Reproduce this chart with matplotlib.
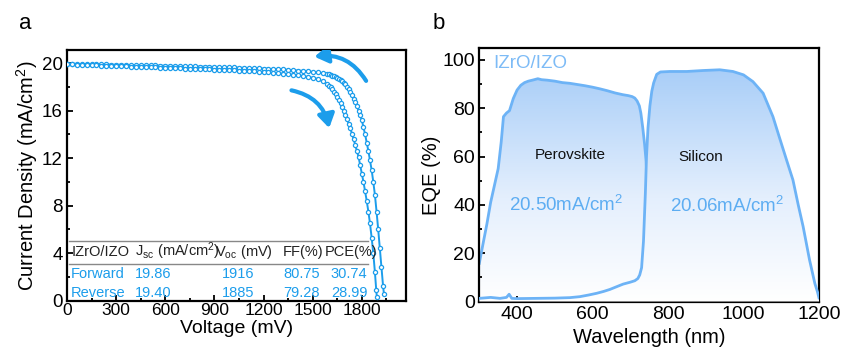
import numpy as np
import matplotlib
matplotlib.use("Agg")
import matplotlib.pyplot as plt
from matplotlib.colors import LinearSegmentedColormap
from matplotlib.patches import FancyArrowPatch

plt.rcParams['font.family'] = ['Liberation Sans', 'DejaVu Sans']
plt.rcParams['mathtext.fontset'] = 'custom'
plt.rcParams['mathtext.rm'] = 'Liberation Sans'
plt.rcParams['mathtext.it'] = 'Liberation Sans:italic'

# ---- data: J-V (panel a) ----
v_fwd = [0, 30, 60, 90, 120, 150, 180, 210, 240, 270,
         300, 330, 360, 390, 420, 450, 480, 510, 540, 570,
         600, 630, 660, 690, 720, 750, 780, 810, 840, 870,
         900, 930, 960, 990, 1020, 1050, 1080, 1110, 1140, 1170,
         1200, 1230, 1260, 1290, 1320, 1350, 1380, 1410, 1440, 1470,
         1500, 1530, 1560, 1590, 1600, 1610, 1620, 1630, 1640, 1650,
         1660, 1670, 1680, 1690, 1700, 1710, 1720, 1730, 1740, 1750,
         1760, 1770, 1780, 1790, 1800, 1810, 1820, 1830, 1840, 1850,
         1860, 1870, 1880, 1890, 1900, 1910, 1920, 1930, 1935]
j_fwd = [19.95, 19.94, 19.93, 19.92, 19.91, 19.90, 19.90, 19.89, 19.88, 19.87,
         19.86, 19.86, 19.85, 19.84, 19.83, 19.82, 19.81, 19.80, 19.80, 19.79,
         19.78, 19.77, 19.76, 19.75, 19.74, 19.73, 19.72, 19.71, 19.70, 19.69,
         19.68, 19.67, 19.66, 19.65, 19.63, 19.62, 19.60, 19.59, 19.57, 19.56,
         19.54, 19.52, 19.50, 19.48, 19.46, 19.43, 19.40, 19.37, 19.34, 19.30,
         19.26, 19.21, 19.15, 19.07, 19.04, 19.00, 18.95, 18.90, 18.84, 18.76,
         18.68, 18.58, 18.50, 18.35, 18.20, 18.00, 17.80, 17.60, 17.30, 17.00,
         16.70, 16.40, 16.00, 15.60, 15.20, 14.60, 14.00, 13.30, 12.60, 11.80,
         11.00, 10.00, 8.90, 7.50, 6.00, 4.40, 2.80, 1.20, 0.60]

v_rev = [0, 30, 60, 90, 120, 150, 180, 210, 240, 270,
         300, 330, 360, 390, 420, 450, 480, 510, 540, 570,
         600, 630, 660, 690, 720, 750, 780, 810, 840, 870,
         900, 930, 960, 990, 1020, 1050, 1080, 1110, 1140, 1170,
         1200, 1230, 1260, 1290, 1320, 1350, 1380, 1410, 1440, 1470,
         1500, 1530, 1560, 1590, 1600, 1610, 1620, 1630, 1640, 1650,
         1660, 1670, 1680, 1690, 1700, 1710, 1720, 1730, 1740, 1750,
         1760, 1770, 1780, 1790, 1800, 1810, 1820, 1830, 1840, 1850,
         1860, 1870, 1880, 1888, 1892]
j_rev = [19.90, 19.88, 19.87, 19.85, 19.84, 19.82, 19.81, 19.79, 19.78, 19.76,
         19.75, 19.73, 19.72, 19.70, 19.69, 19.67, 19.66, 19.64, 19.63, 19.61,
         19.60, 19.58, 19.57, 19.55, 19.54, 19.52, 19.51, 19.49, 19.48, 19.46,
         19.45, 19.43, 19.42, 19.40, 19.38, 19.36, 19.34, 19.32, 19.29, 19.27,
         19.24, 19.21, 19.18, 19.15, 19.11, 19.07, 19.02, 18.97, 18.91, 18.84,
         18.76, 18.67, 18.45, 18.20, 18.10, 17.95, 17.80, 17.60, 17.40, 17.15,
         16.90, 16.60, 16.30, 15.95, 15.60, 15.25, 14.90, 14.50, 14.05, 13.60,
         13.10, 12.60, 12.10, 11.40, 10.70, 10.00, 9.20, 8.40, 7.50, 6.50,
         5.30, 4.00, 2.40, 0.90, 0.30]

tbl_rows = ['Forward', 'Reverse']
tbl_jsc = ['19.86', '19.40']
tbl_voc = ['1916', '1885']
tbl_ff = ['80.75', '79.28']
tbl_pce = ['30.74', '28.99']

# ---- data: EQE (panel b) ----
pk_wl = [300, 310, 320, 330, 340, 350, 358, 364, 372, 380, 390, 400, 410, 420,
         430, 443, 455, 465, 480, 500, 520, 540, 560, 580, 600, 620, 640, 660,
         680, 695, 705, 712, 718, 724, 728, 733, 738, 742, 746, 750, 756, 765,
         780, 800, 850, 900, 1000, 1100, 1200]
pk_eqe = [15.8, 24, 32, 41, 48, 55, 66, 76.5, 78, 79, 84, 87.5, 89.5, 90.6,
          91.2, 91.7, 92.2, 91.8, 91.6, 91.2, 90.6, 90.3, 89.8, 89.3, 88.7, 88.0, 87.2, 86.3,
          85.6, 85.2, 84.8, 84.2, 83, 81, 78, 72, 65, 58, 45, 30, 15, 6,
          2, 1, 0.5, 0.4, 0.3, 0.3, 0.3]

si_wl = [300, 330, 355, 372, 379, 386, 400, 450, 500, 540, 566, 590, 611, 630,
         646, 665, 681, 700, 712, 720, 725, 730, 735, 740, 743, 747, 752, 757,
         762, 770, 780, 805, 850, 893, 937, 972, 1000, 1025, 1052, 1078, 1095,
         1114, 1131, 1145, 1158, 1175, 1189, 1196, 1200]
si_eqe = [1.3, 1.7, 1.3, 1.7, 3.0, 1.3, 1.2, 1.3, 1.4, 1.6, 2.0, 2.7, 3.4, 4.2,
          5.0, 6.2, 7.2, 8.0, 8.6, 9.5, 11, 14, 25, 45, 60, 72, 81, 87,
          90.5, 94, 95, 95.2, 95.2, 95.6, 95.9, 95.2, 93.8, 91, 86.2, 76.5, 68,
          58.6, 50.3, 40, 31, 17.2, 7.5, 4, 1.5]

jv_blue = '#1C9DEB'
eqe_blue = '#6DB3F6'
txt_blue = '#5DADF2'

fig = plt.figure(figsize=(8.63, 3.63), dpi=100)
ax1 = fig.add_axes([0.0776, 0.1716, 0.3929, 0.6907])
ax2 = fig.add_axes([0.5554, 0.1694, 0.3936, 0.6976])

# ---------- panel a ----------
ax1.plot(v_fwd, j_fwd, '-o', color=jv_blue, lw=1.4, ms=3.0, mfc='white', mec=jv_blue, mew=0.9, zorder=3)
ax1.plot(v_rev, j_rev, '-o', color=jv_blue, lw=1.4, ms=3.0, mfc='white', mec=jv_blue, mew=0.9, zorder=3)

ax1.set_xlim(0, 2070)
ax1.set_ylim(0, 21.1)
ax1.set_xticks(np.arange(0, 1801, 300))
ax1.set_xticks(np.arange(0, 2000, 150), minor=True)
ax1.set_yticks(np.arange(0, 21, 4))
ax1.set_yticks(np.arange(0, 21, 2), minor=True)
ax1.set_xlabel('Voltage (mV)', fontsize=14, labelpad=1)
ax1.set_ylabel('Current Density (mA/cm$^2$)', fontsize=14.5, labelpad=1)

# arrows
a1 = FancyArrowPatch((1835, 18.3), (1494, 20.5), connectionstyle='arc3,rad=0.35',
                     arrowstyle='-|>,head_length=8,head_width=5', color=jv_blue, lw=3, zorder=4)
a2 = FancyArrowPatch((1354, 17.75), (1604, 14.3), connectionstyle='arc3,rad=-0.35',
                     arrowstyle='-|>,head_length=8,head_width=5', color=jv_blue, lw=3, zorder=4)
ax1.add_patch(a1)
ax1.add_patch(a2)

# table
ax1.plot([10, 1840], [5.03, 5.03], color='#888888', lw=1.0, zorder=2)
ax1.plot([10, 1840], [3.07, 3.07], color='#888888', lw=1.0, zorder=2)
hdr_y = 4.13
hc = '#222222'
ax1.text(26, hdr_y, 'IZrO/IZO', fontsize=10.5, color=hc, va='center')
ax1.text(416, hdr_y, 'J$_{\\mathregular{sc}}$ (mA/cm$^{\\mathregular{2}}$)', fontsize=10.5, color=hc, va='center')
ax1.text(906, hdr_y, 'V$_{\\mathregular{oc}}$ (mV)', fontsize=10.5, color=hc, va='center')
ax1.text(1320, hdr_y, 'FF(%)', fontsize=10.5, color=hc, va='center')
ax1.text(1574, hdr_y, 'PCE(%)', fontsize=10.5, color=hc, va='center')
for i, ry in enumerate([2.22, 0.67]):
    ax1.text(26, ry, tbl_rows[i], fontsize=10.5, color=jv_blue, va='center')
    ax1.text(416, ry, tbl_jsc[i], fontsize=10.5, color=jv_blue, va='center')
    ax1.text(944, ry, tbl_voc[i], fontsize=10.5, color=jv_blue, va='center')
    ax1.text(1320, ry, tbl_ff[i], fontsize=10.5, color=jv_blue, va='center')
    ax1.text(1611, ry, tbl_pce[i], fontsize=10.5, color=jv_blue, va='center')

# ---------- panel b ----------
cmap = LinearSegmentedColormap.from_list('eqe', [(0, '#FFFFFF'), (0.45, '#E4EFFD'), (1, '#A9CEF8')])
grad = np.linspace(0, 1, 256).reshape(-1, 1)

poly1 = ax2.fill_between(pk_wl, pk_eqe, 0, facecolor='none', edgecolor='none')
im1 = ax2.imshow(grad, extent=[300, 1200, 0, 96], origin='lower', cmap=cmap, aspect='auto', zorder=1)
im1.set_clip_path(poly1.get_paths()[0], ax2.transData)
ax2.plot(pk_wl, pk_eqe, color=eqe_blue, lw=2, zorder=2)

poly2 = ax2.fill_between(si_wl, si_eqe, 0, facecolor='none', edgecolor='none')
im2 = ax2.imshow(grad, extent=[300, 1200, 0, 96], origin='lower', cmap=cmap, aspect='auto', zorder=3)
im2.set_clip_path(poly2.get_paths()[0], ax2.transData)
ax2.plot(si_wl, si_eqe, color=eqe_blue, lw=2, zorder=4)

ax2.set_xlim(300, 1200)
ax2.set_ylim(0, 104.8)
ax2.set_xticks(np.arange(400, 1201, 200))
ax2.set_xticks(np.arange(300, 1201, 100), minor=True)
ax2.set_yticks(np.arange(0, 101, 20))
ax2.set_yticks(np.arange(0, 101, 10), minor=True)
ax2.set_xlabel('Wavelength (nm)', fontsize=14.5, labelpad=4)
ax2.set_ylabel('EQE (%)', fontsize=14.5, labelpad=1)

ax2.text(337, 98.6, 'IZrO/IZO', fontsize=13.5, color='#7DBBF6', va='center', zorder=6)
ax2.text(540, 60.7, 'Perovskite', fontsize=11, color='#111111', ha='center', va='center', zorder=6)
ax2.text(888, 59.7, 'Silicon', fontsize=11, color='#111111', ha='center', va='center', zorder=6)
ax2.text(531, 40, '20.50mA/cm$^2$', fontsize=13.5, color=txt_blue, ha='center', va='center', zorder=6)
ax2.text(955, 39.5, '20.06mA/cm$^2$', fontsize=13.5, color=txt_blue, ha='center', va='center', zorder=6)

for ax in (ax1, ax2):
    for s in ax.spines.values():
        s.set_linewidth(1.6)
    ax.tick_params(which='both', direction='in', top=False, right=False, width=1.3)
    ax.tick_params(which='major', length=4, pad=3)
    ax.tick_params(which='minor', length=2.5)
ax1.tick_params(axis='x', labelsize=12.5, pad=2)
ax1.tick_params(axis='y', labelsize=13.5)
ax2.tick_params(axis='both', labelsize=14)

fig.text(0.029, 0.935, 'a', fontsize=16, ha='center', va='center')
fig.text(0.508, 0.935, 'b', fontsize=16, ha='center', va='center')

fig.savefig('out.png', dpi=100)
